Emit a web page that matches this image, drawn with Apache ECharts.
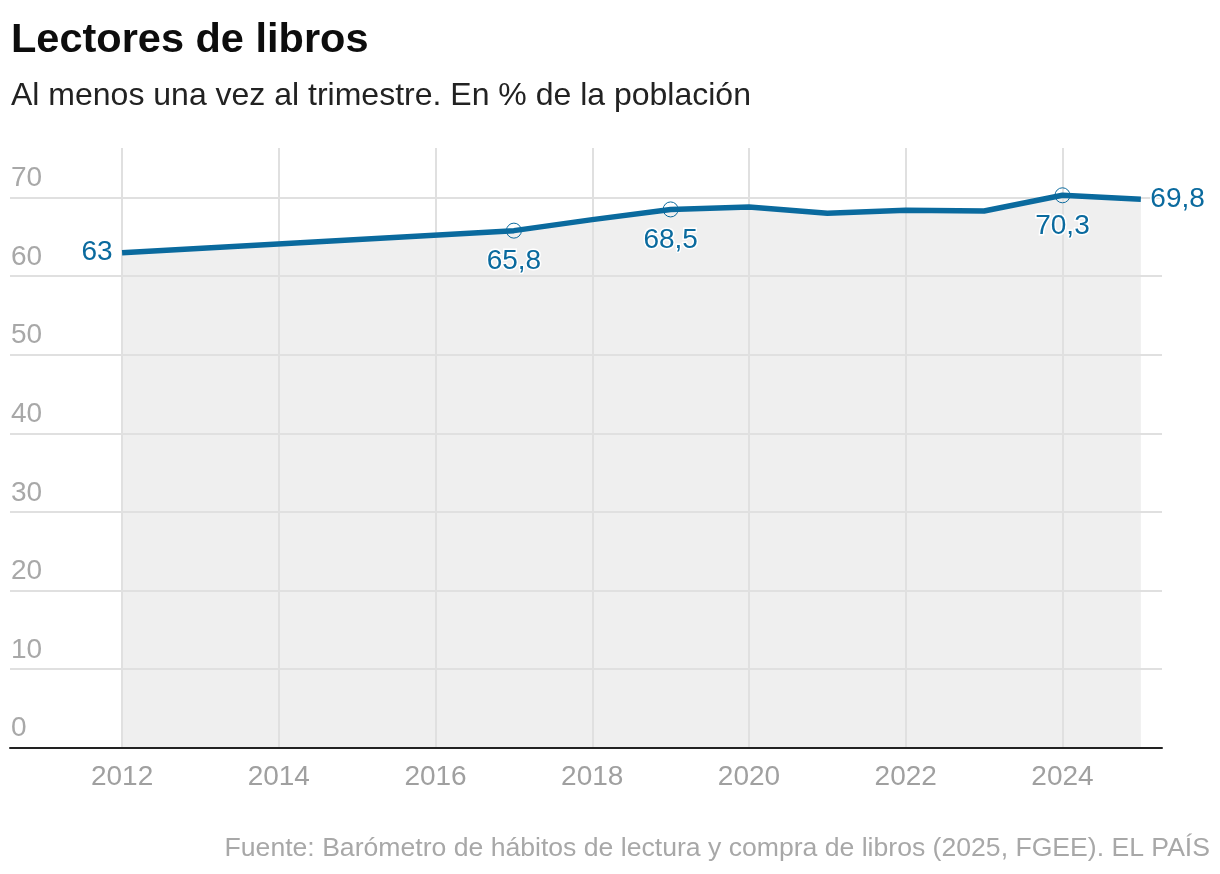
<!DOCTYPE html>
<html>
<head>
<meta charset="utf-8">
<script src="https://cdn.jsdelivr.net/npm/echarts@6/dist/echarts.min.js"></script>
<style>
  html, body { margin: 0; padding: 0; background: #fff; }
  #chart { width: 1220px; height: 874px; }
</style>
</head>
<body>
<div id="chart"></div>
<script>
// datos
const years = [2012, 2017, 2018, 2019, 2020, 2021, 2022, 2023, 2024, 2025];
const readers = [63, 65.8, 67.2, 68.5, 68.8, 68.0, 68.4, 68.3, 70.3, 69.8];
const labelYears = [2012, 2017, 2019, 2024, 2025];
const labelPos = ['left', 'bottom', 'bottom', 'bottom', 'right'];
const xTicks = [2012, 2014, 2016, 2018, 2020, 2022, 2024];
const yTicks = [0, 10, 20, 30, 40, 50, 60, 70];

const BLUE = '#0a6a9e';
const FONT = '"Liberation Sans", Arial, sans-serif';

const chart = echarts.init(document.getElementById('chart'));

const points = years.map((y, i) => [y, readers[i]]);

const lineData = years.map((y, i) => {
  const k = labelYears.indexOf(y);
  if (k < 0) return { value: points[i], symbol: 'none' };
  const edge = labelPos[k] !== 'bottom';
  return {
    value: points[i],
    symbol: 'circle',
    symbolSize: edge ? 1 : 15,
    itemStyle: {
      color: 'rgba(0,0,0,0)',
      borderColor: edge ? 'rgba(0,0,0,0)' : BLUE,
      borderWidth: edge ? 0 : 1
    },
    label: {
      show: true,
      position: labelPos[k],
      distance: 9,
      formatter: p => String(p.value[1]).replace('.', ','),
      color: BLUE,
      fontSize: 28,
      fontFamily: FONT,
      textBorderColor: '#fff',
      textBorderWidth: 3
    }
  };
});

const option = {
  animation: false,
  title: [{
    text: 'Lectores de libros',
    left: 6, top: 15,
    textStyle: { fontSize: 41.5, fontWeight: 'bold', color: '#0d0d0d', fontFamily: FONT }
  }, {
    text: 'Al menos una vez al trimestre. En % de la población',
    left: 6, top: 75,
    textStyle: { fontSize: 32, fontWeight: 'normal', color: '#222', fontFamily: FONT }
  }, {
    text: 'Fuente: Barómetro de hábitos de lectura y compra de libros (2025, FGEE). EL PAÍS',
    right: 5, top: 830,
    textStyle: { fontSize: 26.6, fontWeight: 'normal', color: '#a8a8a8', fontFamily: FONT }
  }],
  grid: { left: 10, right: 58, top: 148, bottom: 126.5, containLabel: false },
  xAxis: {
    type: 'value',
    min: 2010.57,
    max: 2025.27,
    z: 2,
    axisLine: { show: true, lineStyle: { color: '#222', width: 2 } },
    axisTick: { show: false, customValues: xTicks },
    axisLabel: {
      customValues: xTicks,
      color: '#a0a0a0', fontSize: 28, fontFamily: FONT, margin: 16,
      formatter: v => String(v)
    },
    splitLine: { show: true, lineStyle: { color: '#e0e0e0', width: 2 } }
  },
  yAxis: {
    type: 'value',
    min: 0,
    max: 76.32,
    z: 2,
    axisLine: { show: false },
    axisTick: { show: false, customValues: yTicks },
    axisLabel: {
      customValues: yTicks,
      inside: true,
      margin: 1,
      verticalAlign: 'bottom',
      padding: [0, 0, 5, 0],
      color: '#a8a8a8', fontSize: 28, fontFamily: FONT
    },
    splitLine: { show: true, lineStyle: { color: '#e0e0e0', width: 2 } }
  },
  series: [{
    // relleno gris, por debajo de la rejilla
    type: 'line',
    data: points,
    z: 0,
    symbol: 'none',
    lineStyle: { width: 0 },
    areaStyle: { color: '#efefef', opacity: 1 },
    silent: true
  }, {
    type: 'line',
    data: lineData,
    color: BLUE,
    lineStyle: { color: BLUE, width: 5.5 },
    showSymbol: true,
    z: 5
  }]
};

chart.setOption(option);
</script>
</body>
</html>
